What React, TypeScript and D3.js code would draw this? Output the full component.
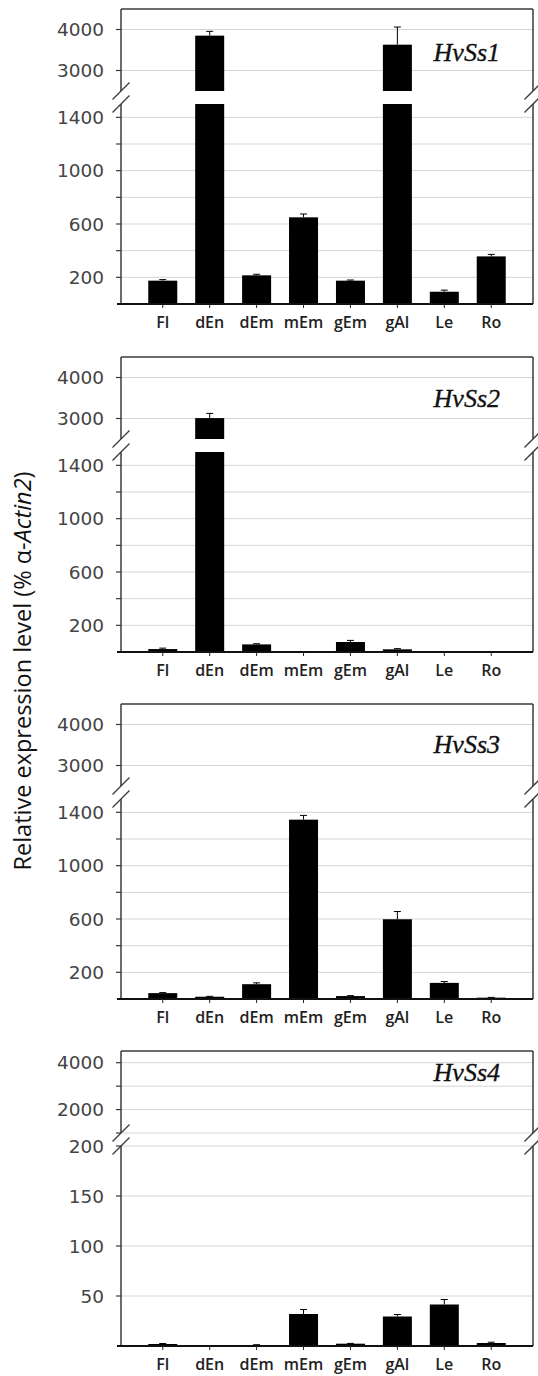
import React from "react";
import * as d3 from "d3";

const categories = ["Fl", "dEn", "dEm", "mEm", "gEm", "gAl", "Le", "Ro"];

const ss1Values = [175, 3850, 215, 650, 175, 3630, 92, 357];
const ss1Errors = [8, 105, 8, 25, 5, 430, 12, 15];
const ss2Values = [22, 3010, 57, 2, 75, 20, 1, 1];
const ss2Errors = [7, 115, 5, 0, 12, 5, 0, 0];
const ss3Values = [44, 17, 111, 1345, 22, 598, 121, 10];
const ss3Errors = [4, 3, 10, 32, 3, 58, 10, 2];
const ss4Values = [2, 0.3, 1, 32, 2.3, 29.5, 41.5, 3];
const ss4Errors = [0.5, 0, 0.3, 4.5, 0.3, 2, 5, 0.8];

const geneLabels = ["HvSs1", "HvSs2", "HvSs3", "HvSs4"];

const lowerTicksA = [200, 400, 600, 800, 1000, 1200, 1400];
const lowerLabelsA = [200, 600, 1000, 1400];
const upperTicksA = [3000, 4000];
const upperLabelsA = [3000, 4000];
const lowerTicksB = [50, 100, 150, 200];
const lowerLabelsB = [50, 100, 150, 200];
const upperTicksB = [1000, 2000, 3000, 4000];
const upperLabelsB = [2000, 4000];

const W = 538;
const H = 1376;
const X0 = 121;
const X1 = 533;
const UPPER_H = 82;
const GAP = 13;
const LOWER_H = 200;
const PANEL_H = UPPER_H + GAP + LOWER_H;
const BAR_W = 29;

type Panel = {
  label: string;
  values: number[];
  errors: number[];
  lowerMax: number;
  upperMin: number;
  upperMax: number;
  lowerTicks: number[];
  lowerLabels: number[];
  upperTicks: number[];
  upperLabels: number[];
  top: number;
  labelDy: number;
};

const panels: Panel[] = [
  { label: geneLabels[0], values: ss1Values, errors: ss1Errors, lowerMax: 1500, upperMin: 2500, upperMax: 4500, lowerTicks: lowerTicksA, lowerLabels: lowerLabelsA, upperTicks: upperTicksA, upperLabels: upperLabelsA, top: 9, labelDy: 52 },
  { label: geneLabels[1], values: ss2Values, errors: ss2Errors, lowerMax: 1500, upperMin: 2500, upperMax: 4500, lowerTicks: lowerTicksA, lowerLabels: lowerLabelsA, upperTicks: upperTicksA, upperLabels: upperLabelsA, top: 357, labelDy: 50 },
  { label: geneLabels[2], values: ss3Values, errors: ss3Errors, lowerMax: 1500, upperMin: 2500, upperMax: 4500, lowerTicks: lowerTicksA, lowerLabels: lowerLabelsA, upperTicks: upperTicksA, upperLabels: upperLabelsA, top: 704, labelDy: 49 },
  { label: geneLabels[3], values: ss4Values, errors: ss4Errors, lowerMax: 200, upperMin: 1000, upperMax: 4500, lowerTicks: lowerTicksB, lowerLabels: lowerLabelsB, upperTicks: upperTicksB, upperLabels: upperLabelsB, top: 1051, labelDy: 30 },
];

const x = d3.scalePoint<string>().domain(categories).range([X0, X1]).padding(0.89);

function PanelView({ p }: { p: Panel }) {
  const upperBottom = p.top + UPPER_H;
  const lowerTop = upperBottom + GAP;
  const axisY = p.top + PANEL_H;
  const yU = d3.scaleLinear().domain([p.upperMin, p.upperMax]).range([upperBottom, p.top]);
  const yL = d3.scaleLinear().domain([0, p.lowerMax]).range([axisY, lowerTop]);
  const gridColor = "#d4d4d4";
  const frameColor = "#3a3a3a";
  const labelFont = "DejaVu Sans";

  const slash = (cx: number, cy: number, key: string) => (
    <line key={key} x1={cx - 8.5} y1={cy + 8.5} x2={cx + 8.5} y2={cy - 8.5} stroke={frameColor} strokeWidth={1.3} />
  );

  return (
    <g>
      {p.lowerTicks.map((t) => (
        <line key={"gl" + t} x1={X0} x2={X1} y1={yL(t)} y2={yL(t)} stroke={gridColor} strokeWidth={1} />
      ))}
      {p.upperTicks.map((t) => (
        <line key={"gu" + t} x1={X0} x2={X1} y1={yU(t)} y2={yU(t)} stroke={gridColor} strokeWidth={1} />
      ))}
      {p.values.map((v, i) => {
        const cx = x(categories[i]) as number;
        const bx = cx - BAR_W / 2;
        const e = p.errors[i];
        const parts: React.ReactNode[] = [];
        if (v <= p.lowerMax) {
          parts.push(<rect key="l" x={bx} y={yL(v)} width={BAR_W} height={yL(0) - yL(v)} fill="#000" />);
          if (e > 0) {
            parts.push(<line key="e" x1={cx} x2={cx} y1={yL(v)} y2={yL(v + e)} stroke="#000" strokeWidth={1} />);
            parts.push(<line key="c" x1={cx - 3.5} x2={cx + 3.5} y1={yL(v + e)} y2={yL(v + e)} stroke="#000" strokeWidth={1} />);
          }
        } else {
          parts.push(<rect key="l" x={bx} y={yL(p.lowerMax)} width={BAR_W} height={yL(0) - yL(p.lowerMax)} fill="#000" />);
          parts.push(<rect key="u" x={bx} y={yU(v)} width={BAR_W} height={yU(p.upperMin) - yU(v)} fill="#000" />);
          if (e > 0) {
            parts.push(<line key="e" x1={cx} x2={cx} y1={yU(v)} y2={yU(v + e)} stroke="#000" strokeWidth={1} />);
            parts.push(<line key="c" x1={cx - 3.5} x2={cx + 3.5} y1={yU(v + e)} y2={yU(v + e)} stroke="#000" strokeWidth={1} />);
          }
        }
        return <g key={"b" + i}>{parts}</g>;
      })}
      <line x1={X0} x2={X1} y1={p.top} y2={p.top} stroke={frameColor} strokeWidth={1.5} />
      <line x1={X0} x2={X0} y1={p.top} y2={upperBottom} stroke={frameColor} strokeWidth={1.5} />
      <line x1={X0} x2={X0} y1={lowerTop} y2={axisY} stroke={frameColor} strokeWidth={1.5} />
      <line x1={X1} x2={X1} y1={p.top} y2={upperBottom} stroke={frameColor} strokeWidth={1.5} />
      <line x1={X1} x2={X1} y1={lowerTop} y2={axisY} stroke={frameColor} strokeWidth={1.5} />
      {slash(X0, upperBottom, "s1")}
      {slash(X0, lowerTop, "s2")}
      {slash(X1, upperBottom, "s3")}
      {slash(X1, lowerTop, "s4")}
      <line x1={X0 - 4} x2={X1} y1={axisY} y2={axisY} stroke="#111" strokeWidth={2} />
      {categories.map((c) => (
        <g key={"xt" + c}>
          <line x1={x(c) as number} x2={x(c) as number} y1={axisY} y2={axisY + 4} stroke="#222" strokeWidth={1} />
          <text x={x(c) as number} y={axisY + 24} textAnchor="middle" fontFamily="Open Sans" fontWeight={600} fontSize={16} fill="#222">
            {c}
          </text>
        </g>
      ))}
      {p.lowerTicks.map((t) => (
        <line key={"tl" + t} x1={X0 - 5} x2={X0} y1={yL(t)} y2={yL(t)} stroke={frameColor} strokeWidth={1.2} />
      ))}
      {p.upperTicks.map((t) => (
        <line key={"tu" + t} x1={X0 - 5} x2={X0} y1={yU(t)} y2={yU(t)} stroke={frameColor} strokeWidth={1.2} />
      ))}
      {p.lowerLabels.map((t) => (
        <text key={"ll" + t} x={104} y={yL(t)} dy="0.36em" textAnchor="end" fontFamily={labelFont} fontSize={18.5} fill="#444">
          {t}
        </text>
      ))}
      {p.upperLabels.map((t) => (
        <text key={"lu" + t} x={104} y={yU(t)} dy="0.36em" textAnchor="end" fontFamily={labelFont} fontSize={18.5} fill="#444">
          {t}
        </text>
      ))}
      <text x={500} y={p.top + p.labelDy} textAnchor="end" fontFamily="Liberation Serif" fontStyle="italic" fontSize={26} fill="#111" stroke="#111" strokeWidth={0.35}>
        {p.label}
      </text>
    </g>
  );
}

export default function App() {
  return (
    <svg width={W} height={H} style={{ position: "absolute", left: 0, top: 0, background: "#fff" }}>
      <rect x={0} y={0} width={W} height={H} fill="#fff" />
      {panels.map((p, i) => (
        <PanelView key={i} p={p} />
      ))}
      <text
        transform="translate(31,671) rotate(-90)"
        textAnchor="middle"
        fontFamily="Open Sans"
        fontSize={23.5}
        fill="#111"
      >
        Relative expression level (% α-<tspan fontStyle="italic">Actin2</tspan>)
      </text>
    </svg>
  );
}
